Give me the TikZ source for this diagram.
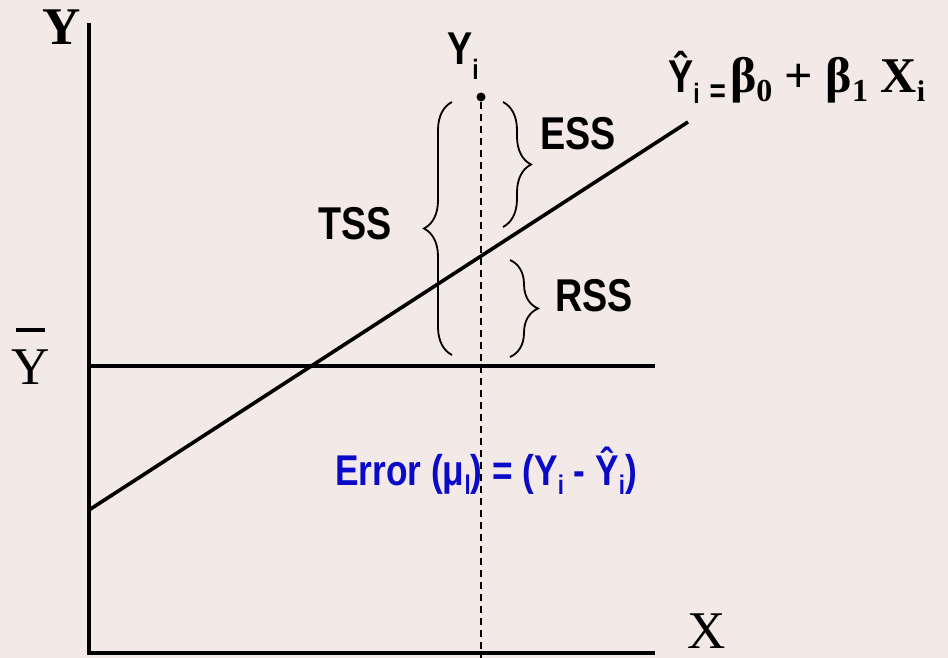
\documentclass[tikz,border=0pt]{standalone}
\usepackage{fontspec}
\setmainfont{Liberation Serif}
\newfontfamily\lblsans[FakeStretch=0.82]{Liberation Sans}
\usetikzlibrary{decorations.pathreplacing, positioning}
\definecolor{bgpaper}{RGB}{243,233,230}
\definecolor{errblue}{RGB}{10,10,200}
\newcommand{\lowsub}[3][26]{\raisebox{-#2pt}{\fontsize{#1}{#1}\selectfont #3}}

\begin{document}
\begin{tikzpicture}[
    x=1pt, y=-1pt,
    axis/.style={line width=4pt, line cap=rect},
    fitline/.style={line width=3.6pt},
    guide/.style={line width=1.3pt, dash pattern=on 7pt off 5pt},
    curly/.style={line width=1.8pt, decorate, decoration={brace, amplitude=#1}},
    sslabel/.style={font=\lblsans\bfseries\fontsize{46}{46}\selectfont, inner sep=0pt},
    axlabel/.style={font=\fontsize{53}{53}\selectfont, inner sep=0pt},
    boldlabel/.style={font=\bfseries\fontsize{53}{53}\selectfont, inner sep=0pt}
  ]

  \useasboundingbox (0,0) rectangle (948,658);
  \fill[bgpaper] (0,0) rectangle (948,658);

  % axes and mean line
  \coordinate (O)      at (89,653);
  \coordinate (Ytop)   at (89,25);
  \coordinate (Xend)   at (653,653);
  \coordinate (Mleft)  at (89,366);
  \coordinate (Mright) at (655,366);
  \coordinate (Lstart) at (89,510);
  \coordinate (Lend)   at (688,122);
  \coordinate (Gbot)   at (481,658);

  \draw[axis] (O) -- (Ytop);
  \draw[axis] (O) -- (Xend);
  \draw[fitline] (Mleft) -- (Mright);
  \draw[fitline] (Lstart) -- (Lend);

  % observed point
  \node[circle, fill, inner sep=0pt, minimum size=9pt] (yi) at (481,97) {};

  % error label (the guide runs over it)
  \node[font=\lblsans\bfseries\fontsize{43}{43}\selectfont, text=errblue,
        inner sep=0pt, anchor=base west] (err) at (335,485)
    {Error (μ\lowsub[27]{9}{l}) = (Y\lowsub[27]{9}{i} - Ŷ\lowsub[27]{9}{i})};

  \draw[guide] (yi) -- (Gbot);

  % braces
  \coordinate (tssbot) at (452,355);
  \coordinate (tsstop) at (452,102);
  \coordinate (esstop) at (503,102);
  \coordinate (essbot) at (503,227);
  \coordinate (rsstop) at (510,260);
  \coordinate (rssbot) at (510,357);

  \draw[curly=28] (tssbot) -- (tsstop);
  \draw[curly=28] (esstop) -- (essbot);
  \draw[curly=28] (rsstop) -- (rssbot);

  \node[sslabel, anchor=east] (tss) at (392,224) {TSS};
  \node[sslabel, anchor=west] (ess) at (540,134) {ESS};
  \node[sslabel, anchor=west] (rss) at (555,296) {RSS};

  % axis labels
  \node[boldlabel, anchor=base west] (ylab) at (42,45) {Y};
  \node[axlabel, anchor=base west] (xlab) at (687,648) {X};
  \node[axlabel, anchor=south, align=center] (ybar) at (31,385)
    {\rule{29pt}{4pt}\\Y};
  \node[sslabel, anchor=base west] (yilab) at (447,65) {Y\lowsub[28]{15}{i}};

  % fitted line equation
  \node[inner sep=0pt, anchor=base west] (eq) at (668,93)
    {{\lblsans\bfseries\fontsize{46}{46}\selectfont Ŷ\lowsub[28]{11}{i}\hspace{10pt}\lowsub[34]{10}{=}}%
     \hspace{4pt}{\bfseries\fontsize{50}{50}\selectfont β\lowsub[32]{9}{0} + β\lowsub[32]{9}{1} X\lowsub[30]{9}{i}}};

\end{tikzpicture}
\end{document}
